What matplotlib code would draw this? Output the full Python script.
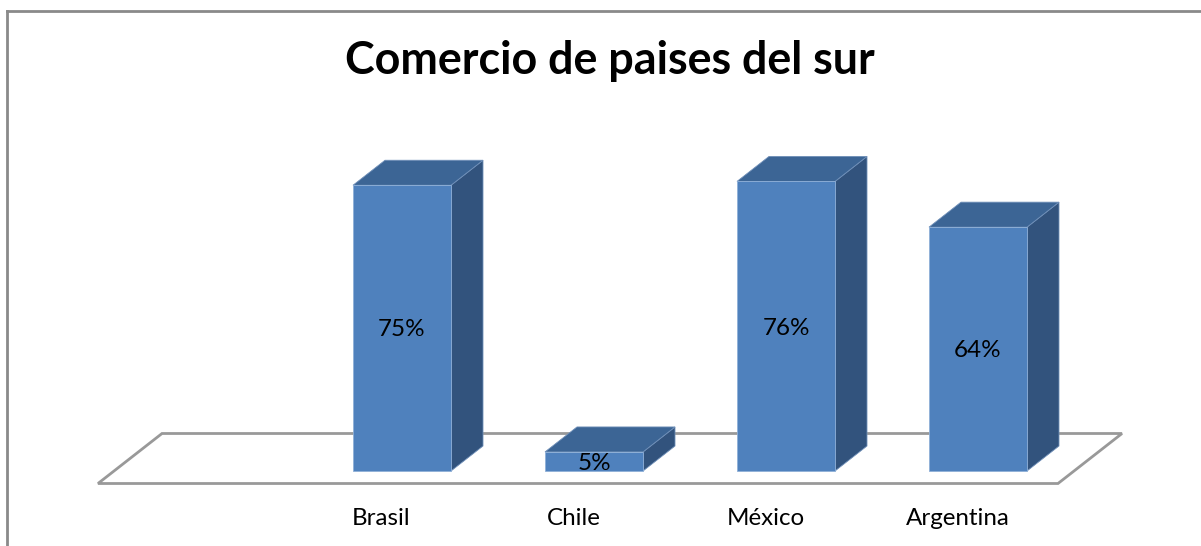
import matplotlib
matplotlib.use("Agg")
import matplotlib.pyplot as plt
from matplotlib.patches import Polygon
from matplotlib.lines import Line2D

# ---- data ----
categories = ["", "Brasil", "Chile", "México", "Argentina"]
values = [None, 75, 5, 76, 64]
value_labels = ["", "75%", "5%", "76%", "64%"]
title = "Comercio de paises del sur"

# ---- style ----
front_col = "#4F81BD"
top_col = "#3C6595"
side_col = "#32537D"
floor_col = "#999999"
plt.rcParams['font.family'] = ['Lato', 'DejaVu Sans']

W, H = 1201, 546
fig = plt.figure(figsize=(W / 100, H / 100), dpi=100)
ax = fig.add_axes([0, 0, 1, 1])
ax.set_axis_off()

# scales: category index on x, percent on y
px_per_cat = 192.0
px_per_pct = 3.81
x0_px, y0_px = 210.0, 471.0
ax.set_xlim(-x0_px / px_per_cat, (W - x0_px) / px_per_cat)
ax.set_ylim(-(H - y0_px) / px_per_pct, y0_px / px_per_pct)

# 3D depth offset (one bar depth) in data units
ddx = 32 / px_per_cat
ddy = 25 / px_per_pct
bw = 98 / px_per_cat

# figure frame (left and top)
fig.add_artist(Line2D([6.5 / W, 6.5 / W], [0, 1 - 10.5 / H], color="#8a8a8a", lw=2,
                      transform=fig.transFigure))
fig.add_artist(Line2D([6.5 / W, 1], [1 - 10.5 / H, 1 - 10.5 / H], color="#8a8a8a", lw=2,
                      transform=fig.transFigure))

# floor
n = len(categories)
xl, xr = -0.5, n - 0.5
floor = [(xl - 0.5 * ddx, -0.5 * ddy), (xr - 0.5 * ddx, -0.5 * ddy),
         (xr + 1.5 * ddx, 1.5 * ddy), (xl + 1.5 * ddx, 1.5 * ddy)]
ax.add_patch(Polygon(floor, closed=True, facecolor="white", edgecolor=floor_col, lw=2, zorder=1))

# bars
for i, v in enumerate(values):
    if v is None:
        continue
    l, r = i - bw / 2, i + bw / 2
    front = [(l, 0), (r, 0), (r, v), (l, v)]
    top = [(l, v), (r, v), (r + ddx, v + ddy), (l + ddx, v + ddy)]
    side = [(r, 0), (r + ddx, ddy), (r + ddx, v + ddy), (r, v)]
    ax.add_patch(Polygon(side, closed=True, facecolor=side_col, edgecolor="#6f8fb8", lw=0.6, zorder=2))
    ax.add_patch(Polygon(top, closed=True, facecolor=top_col, edgecolor="#6f8fb8", lw=0.6, zorder=2))
    ax.add_patch(Polygon(front, closed=True, facecolor=front_col, edgecolor="#8fb0d8", lw=0.6, zorder=3))
    ax.text(i, v / 2 - 8.3 / px_per_pct, value_labels[i], ha="center", va="baseline",
            fontsize=17.5, color="black", zorder=4)

# category labels
for i, c in enumerate(categories):
    if c:
        ax.text(i - 20.5 / px_per_cat, -54 / px_per_pct, c, ha="center", va="baseline",
                fontsize=17.4, color="black")

# title
fig.text(610 / W, 1 - 74.5 / H, title, ha="center", va="baseline", fontsize=32.3, fontweight="bold")

fig.savefig("out.png", dpi=100)
